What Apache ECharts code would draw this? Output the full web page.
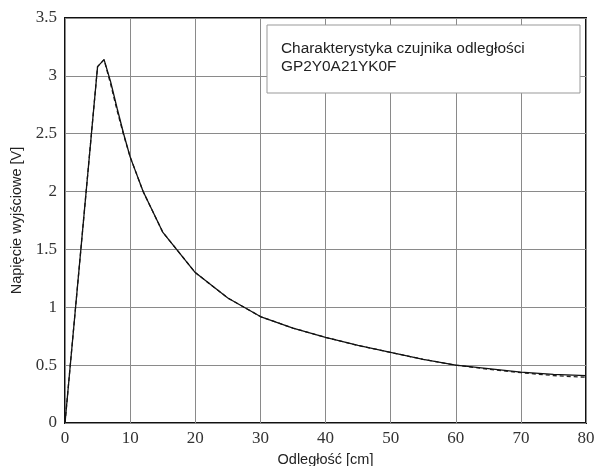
<!DOCTYPE html>
<html>
<head>
<meta charset="utf-8">
<script src="https://cdn.jsdelivr.net/npm/echarts@6/dist/echarts.min.js"></script>
<style>
  html, body { margin: 0; padding: 0; background: #fff; }
  #chart { width: 595px; height: 466px; }
</style>
</head>
<body>
<div id="chart"></div>
<script>
// odległość [cm]
const distance = [0, 5, 6, 7, 8, 9, 10, 12, 15, 20, 25, 30, 35, 40, 45, 50, 55, 60, 65, 70, 75, 80]
// napięcie - pomiar (linia ciągła)
const voltage = [0, 3.08, 3.14, 2.95, 2.72, 2.5, 2.3, 2.0, 1.65, 1.3, 1.08, 0.92, 0.82, 0.74, 0.67, 0.61, 0.55, 0.5, 0.47, 0.44, 0.42, 0.41]
// napięcie - aproksymacja (linia przerywana)
const voltageFit = [0, 3.08, 3.14, 2.93, 2.7, 2.49, 2.3, 2.0, 1.65, 1.3, 1.08, 0.92, 0.82, 0.74, 0.67, 0.61, 0.55, 0.5, 0.465, 0.435, 0.41, 0.395]

const xTicks = [0, 10, 20, 30, 40, 50, 60, 70, 80]
const yTicks = [0, 0.5, 1, 1.5, 2, 2.5, 3, 3.5]

const chart = echarts.init(document.getElementById('chart'))

const serif = '"Liberation Serif", "DejaVu Serif", serif'
const sans = '"Liberation Sans", Arial, sans-serif'

chart.setOption({
  animation: false,
  grid: {
    left: 65, right: 9, top: 18, bottom: 43,
    outerBoundsMode: 'none',
    containLabel: false,
    show: true, borderColor: '#111', borderWidth: 2
  },
  xAxis: {
    type: 'value',
    min: xTicks[0], max: xTicks[xTicks.length - 1], interval: 10,
    name: 'Odległość [cm]',
    nameLocation: 'middle', nameGap: 29,
    nameTextStyle: { fontFamily: sans, fontSize: 14.5, color: '#222' },
    axisLine: { show: false },
    axisTick: { show: false },
    axisLabel: { fontFamily: serif, fontSize: 17, color: '#333', margin: 7 },
    splitLine: { lineStyle: { color: '#8a8a8a', width: 1 } }
  },
  yAxis: {
    type: 'value',
    min: yTicks[0], max: yTicks[yTicks.length - 1], interval: 0.5,
    name: 'Napięcie wyjściowe [V]',
    nameLocation: 'middle', nameGap: 41,
    nameTextStyle: { fontFamily: sans, fontSize: 14.5, color: '#222' },
    axisLine: { show: false },
    axisTick: { show: false },
    axisLabel: { fontFamily: serif, fontSize: 17, color: '#333', margin: 8 },
    splitLine: { lineStyle: { color: '#8a8a8a', width: 1 } }
  },
  graphic: [
    {
      type: 'rect',
      shape: { x: 267, y: 25, width: 313, height: 68 },
      style: { fill: '#fff', stroke: '#999', lineWidth: 1 },
      z: 100
    },
    {
      type: 'text',
      left: 281, top: 40,
      style: {
        text: 'Charakterystyka czujnika odległości\nGP2Y0A21YK0F',
        font: '15.4px ' + sans,
        fill: '#222',
        lineHeight: 18
      },
      z: 101
    }
  ],
  series: [
    {
      type: 'line',
      data: distance.map((d, i) => [d, voltageFit[i]]),
      showSymbol: false,
      lineStyle: { color: '#222', width: 1.3, type: [4, 3] }
    },
    {
      type: 'line',
      data: distance.map((d, i) => [d, voltage[i]]),
      showSymbol: false,
      lineStyle: { color: '#111', width: 1.3 }
    }
  ]
})
</script>
</body>
</html>
